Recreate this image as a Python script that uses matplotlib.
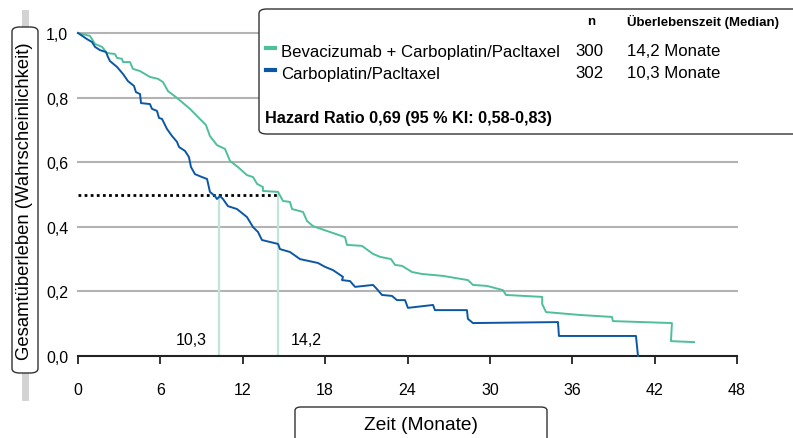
import matplotlib
matplotlib.use("Agg")
import matplotlib.pyplot as plt
from matplotlib.patches import FancyBboxPatch
from matplotlib.lines import Line2D

plt.rcParams['font.family'] = ['Liberation Sans', 'DejaVu Sans']

# Kaplan-Meier Kurven
bev_t = [0, 0.87, 1.24, 1.75, 2.11, 2.69, 2.84, 3.20, 3.28, 3.79, 4.00, 4.52, 5.24, 5.83,
         6.19, 6.56, 7.21, 8.16, 9.32, 9.61, 10.12, 10.71, 11.07, 11.65, 12.31, 12.75,
         13.04, 13.47, 13.47, 14.57, 14.93, 15.44, 15.59, 16.39, 16.68, 17.12, 18.14,
         19.45, 19.59, 20.68, 21.49, 22.00, 22.80, 23.09, 23.60, 24.33, 25.05, 26.58,
         28.40, 28.77, 29.79, 30.95, 31.17, 33.81, 33.81, 34.09, 36.56, 38.89, 38.96,
         43.26, 43.19, 44.87]
bev_s = [1.0, 0.991, 0.966, 0.957, 0.938, 0.935, 0.923, 0.920, 0.910, 0.910, 0.889, 0.882,
         0.864, 0.858, 0.848, 0.820, 0.799, 0.765, 0.715, 0.681, 0.653, 0.641, 0.604,
         0.585, 0.560, 0.554, 0.533, 0.523, 0.511, 0.508, 0.480, 0.477, 0.455, 0.446,
         0.418, 0.402, 0.387, 0.368, 0.344, 0.341, 0.316, 0.307, 0.300, 0.282, 0.279,
         0.260, 0.254, 0.248, 0.235, 0.220, 0.217, 0.204, 0.189, 0.183, 0.161, 0.136,
         0.127, 0.121, 0.108, 0.102, 0.046, 0.043]

cp_t = [0, 0.66, 1.02, 1.24, 1.60, 2.04, 2.18, 2.33, 2.84, 3.28, 3.64, 4.08, 4.22, 4.52,
        4.59, 5.24, 5.39, 5.75, 5.90, 6.12, 6.48, 6.85, 7.21, 7.36, 7.79, 8.08, 8.23,
        8.52, 9.03, 9.40, 9.61, 9.98, 10.12, 10.34, 10.56, 10.92, 11.58, 12.31, 12.75,
        13.11, 13.40, 14.57, 14.71, 15.44, 16.17, 17.48, 17.99, 18.57, 19.30, 19.23,
        19.81, 20.18, 21.49, 21.78, 22.14, 22.87, 23.23, 23.82, 24.03, 25.86, 26.00,
        28.33, 28.40, 28.77, 34.96, 35.03, 40.64, 40.79]
cp_s = [1.0, 0.981, 0.972, 0.957, 0.947, 0.941, 0.926, 0.913, 0.895, 0.873, 0.851, 0.836,
        0.817, 0.811, 0.783, 0.780, 0.765, 0.759, 0.737, 0.734, 0.703, 0.681, 0.663,
        0.647, 0.635, 0.616, 0.585, 0.563, 0.554, 0.548, 0.508, 0.495, 0.486, 0.495,
        0.486, 0.464, 0.455, 0.430, 0.399, 0.384, 0.359, 0.347, 0.331, 0.322, 0.300,
        0.288, 0.276, 0.266, 0.245, 0.235, 0.232, 0.214, 0.220, 0.207, 0.189, 0.186,
        0.173, 0.173, 0.149, 0.158, 0.142, 0.142, 0.115, 0.102, 0.105, 0.062, 0.062, 0.0]

median_pos = [10.3, 14.6]
median_lbl = ['10,3', '14,2']
xticks = [0, 6, 12, 18, 24, 30, 36, 42, 48]
yticks = [0.0, 0.2, 0.4, 0.6, 0.8, 1.0]
ytick_lbl = ['0,0', '0,2', '0,4', '0,6', '0,8', '1,0']

gruen = '#4fbf9b'
blau = '#0b57a4'

W, H = 793, 439
fig = plt.figure(figsize=(W / 100, H / 100), dpi=100)
ax = fig.add_axes([78 / W, 1 - 357 / H, (737 - 78) / W, (357 - 34) / H])
ax.set_xlim(0, 48)
ax.set_ylim(0, 1.0)

for y in yticks[1:]:
    ax.axhline(y, color='#b3b3b3', lw=1.5, zorder=1, clip_on=False)

for xm in median_pos:
    ax.plot([xm, xm], [0, 0.5], color='#bfe6d8', lw=1.6, zorder=2)
ax.plot([0, median_pos[1]], [0.5, 0.5], color='black', lw=2,
        linestyle=(0, (1, 1.2)), zorder=3)

ax.plot(bev_t, bev_s, color=gruen, lw=1.4, zorder=4, clip_on=False)
ax.plot(cp_t, cp_s, color=blau, lw=1.4, zorder=5, clip_on=False)

ax.text(median_pos[0] - 0.9, 0.05, median_lbl[0], ha='right', va='center', fontsize=11.5)
ax.text(median_pos[1] + 0.9, 0.05, median_lbl[1], ha='left', va='center', fontsize=11.5)

for s in ['top', 'right', 'left']:
    ax.spines[s].set_visible(False)
ax.spines['bottom'].set_color('#222222')
ax.spines['bottom'].set_linewidth(1.5)
ax.set_xticks(xticks)
ax.set_xticklabels([str(x) for x in xticks], fontsize=11.5)
ax.tick_params(axis='x', length=6, width=1.3, color='#222222', pad=13)
ax.set_yticks(yticks)
ax.set_yticklabels(ytick_lbl, fontsize=11.5)
ax.tick_params(axis='y', length=0, pad=7)


def fx(px):
    return px / W


def fy(py):
    return 1 - py / H


# graue Leiste + Kasten fuer y-Beschriftung
fig.add_artist(Line2D([fx(25), fx(25)], [fy(14), fy(398)], color='#d3d3d3', lw=5,
                      transform=fig.transFigure, zorder=0))
fig.add_artist(FancyBboxPatch((fx(12), fy(374)), fx(26), (374 - 28) / H,
                              boxstyle='round,pad=0,rounding_size=0.01',
                              transform=fig.transFigure, fc='white', ec='#333333', lw=1))
fig.text(fx(25), fy(201), 'Gesamtüberleben (Wahrscheinlichkeit)', rotation=90,
         ha='center', va='center', fontsize=13.3)

# Kasten x-Beschriftung
fig.add_artist(FancyBboxPatch((fx(295), fy(450)), fx(252), 42 / H,
                              boxstyle='round,pad=0,rounding_size=0.008',
                              transform=fig.transFigure, fc='white', ec='#333333', lw=1))
fig.text(fx(421), fy(426), 'Zeit (Monate)', ha='center', va='center', fontsize=13.8)

# Legendenkasten
fig.add_artist(FancyBboxPatch((fx(259), fy(135)), fx(560), 125 / H,
                              boxstyle='round,pad=0,rounding_size=0.01',
                              transform=fig.transFigure, fc='white', ec='#333333', lw=1,
                              zorder=6))
fig.text(fx(591), fy(22), 'n', ha='center', va='center', fontsize=9.5,
         fontweight='bold', zorder=7)
fig.text(fx(627), fy(22), 'Überlebenszeit (Median)', ha='left', va='center',
         fontsize=9.5, fontweight='bold', zorder=7)
rows = [('Bevacizumab + Carboplatin/Pacltaxel', '300', '14,2 Monate', gruen, 52),
        ('Carboplatin/Pacltaxel', '302', '10,3 Monate', blau, 74)]
for name, n, med, c, py in rows:
    fig.add_artist(Line2D([fx(266), fx(275)], [fy(py - 3), fy(py - 3)], color=c, lw=3,
                          transform=fig.transFigure, zorder=7))
    fig.text(fx(281), fy(py), name, ha='left', va='center', fontsize=12.1, zorder=7)
    fig.text(fx(575), fy(py), n, ha='left', va='center', fontsize=12.1, zorder=7)
    fig.text(fx(627), fy(py), med, ha='left', va='center', fontsize=12.1, zorder=7)
fig.text(fx(265), fy(119), 'Hazard Ratio 0,69 (95 % KI: 0,58-0,83)', ha='left',
         va='center', fontsize=11.7, fontweight='bold', zorder=7)

fig.savefig('out.png', dpi=100)
